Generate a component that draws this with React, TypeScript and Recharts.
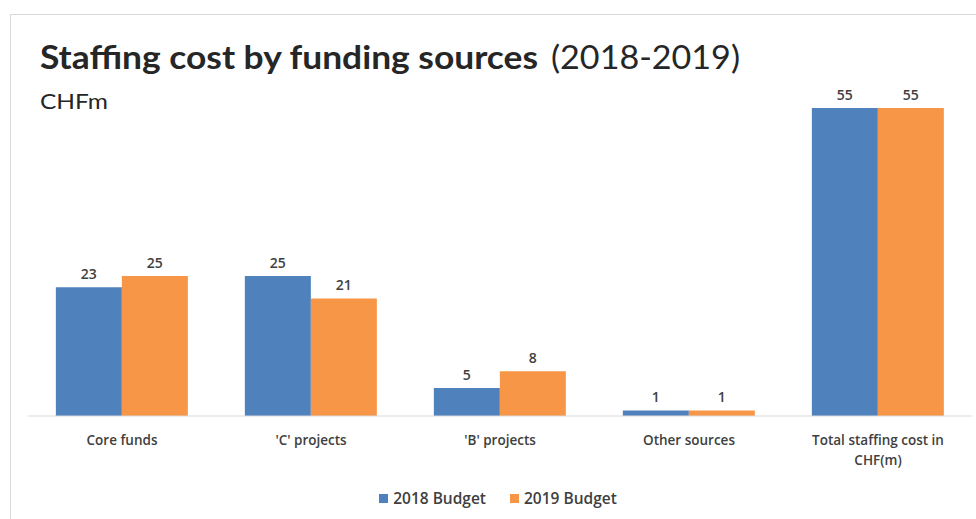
import React from 'react';
import { BarChart, Bar, XAxis, YAxis, LabelList, Text } from 'recharts';

const categories = ['Core funds', "'C' projects", "'B' projects", 'Other sources', 'Total staffing cost in CHF(m)'];
const budget2018 = [23, 25, 5, 1, 55];
const budget2019 = [25, 21, 8, 1, 55];
const seriesNames = ['2018 Budget', '2019 Budget'];
const colors = ['#4F81BD', '#F79646'];

const data = categories.map((c, i) => ({ name: c, b2018: budget2018[i], b2019: budget2019[i] }));

const FONT = "'Open Sans', sans-serif";

const CatTick = (props: any) => {
  const { x, y, payload } = props;
  return (
    <Text
      x={x}
      y={y + 11}
      width={160}
      textAnchor="middle"
      verticalAnchor="start"
      fill="#404040"
      fontSize={13.5}
      fontWeight={600}
      fontFamily={FONT}
      lineHeight={20}
    >
      {payload.value}
    </Text>
  );
};

export default function App() {
  return (
    <div style={{ position: 'absolute', left: 0, top: 0, width: 976, height: 519, background: '#fff', overflow: 'hidden' }}>
      <svg width={976} height={519} style={{ position: 'absolute', left: 0, top: 0 }}>
        <rect x={10.5} y={14.5} width={1000} height={600} fill="none" stroke="#d9d9d9" strokeWidth={1} />
        <text x={40} y={69} fontFamily="Lato, sans-serif" fontWeight={700} fontSize={32} fill="#262626" textLength={498} lengthAdjust="spacingAndGlyphs">
          Staffing cost by funding sources
        </text>
        <text x={551} y={69} fontFamily="Lato, sans-serif" fontWeight={400} fontSize={32} fill="#262626" textLength={189} lengthAdjust="spacingAndGlyphs">
          (2018-2019)
        </text>
        <text x={40} y={109} fontFamily="Lato, sans-serif" fontWeight={400} fontSize={22} fill="#262626" textLength={68} lengthAdjust="spacingAndGlyphs">
          CHFm
        </text>
      </svg>
      <div style={{ position: 'absolute', left: 0, top: 0 }}>
        <BarChart
          width={976}
          height={519}
          data={data}
          margin={{ top: 80, right: 3.5, bottom: 63, left: 27.5 }}
          barCategoryGap="15%"
          barGap={0}
        >
          <YAxis hide domain={[0, 60]} />
          <XAxis
            dataKey="name"
            axisLine={{ stroke: '#d9d9d9' }}
            tickLine={false}
            tick={<CatTick />}
            height={40}
            interval={0}
          />
          <Bar dataKey="b2018" name={seriesNames[0]} fill={colors[0]} isAnimationActive={false}>
            <LabelList dataKey="b2018" position="top" offset={8} fill="#404040" fontSize={14} fontWeight={600} fontFamily={FONT} />
          </Bar>
          <Bar dataKey="b2019" name={seriesNames[1]} fill={colors[1]} isAnimationActive={false}>
            <LabelList dataKey="b2019" position="top" offset={8} fill="#404040" fontSize={14} fontWeight={600} fontFamily={FONT} />
          </Bar>
        </BarChart>
      </div>
      <div style={{ position: 'absolute', top: 487, left: 0, width: 996, display: 'flex', justifyContent: 'center', fontFamily: FONT, fontSize: 15.5, fontWeight: 600, color: '#404040' }}>
        {seriesNames.map((n, i) => (
          <div key={n} style={{ display: 'flex', alignItems: 'center', marginRight: i === 0 ? 24 : 0 }}>
            <span style={{ display: 'inline-block', width: 9, height: 9, background: colors[i], marginRight: 5 }} />
            <span>{n}</span>
          </div>
        ))}
      </div>
    </div>
  );
}
